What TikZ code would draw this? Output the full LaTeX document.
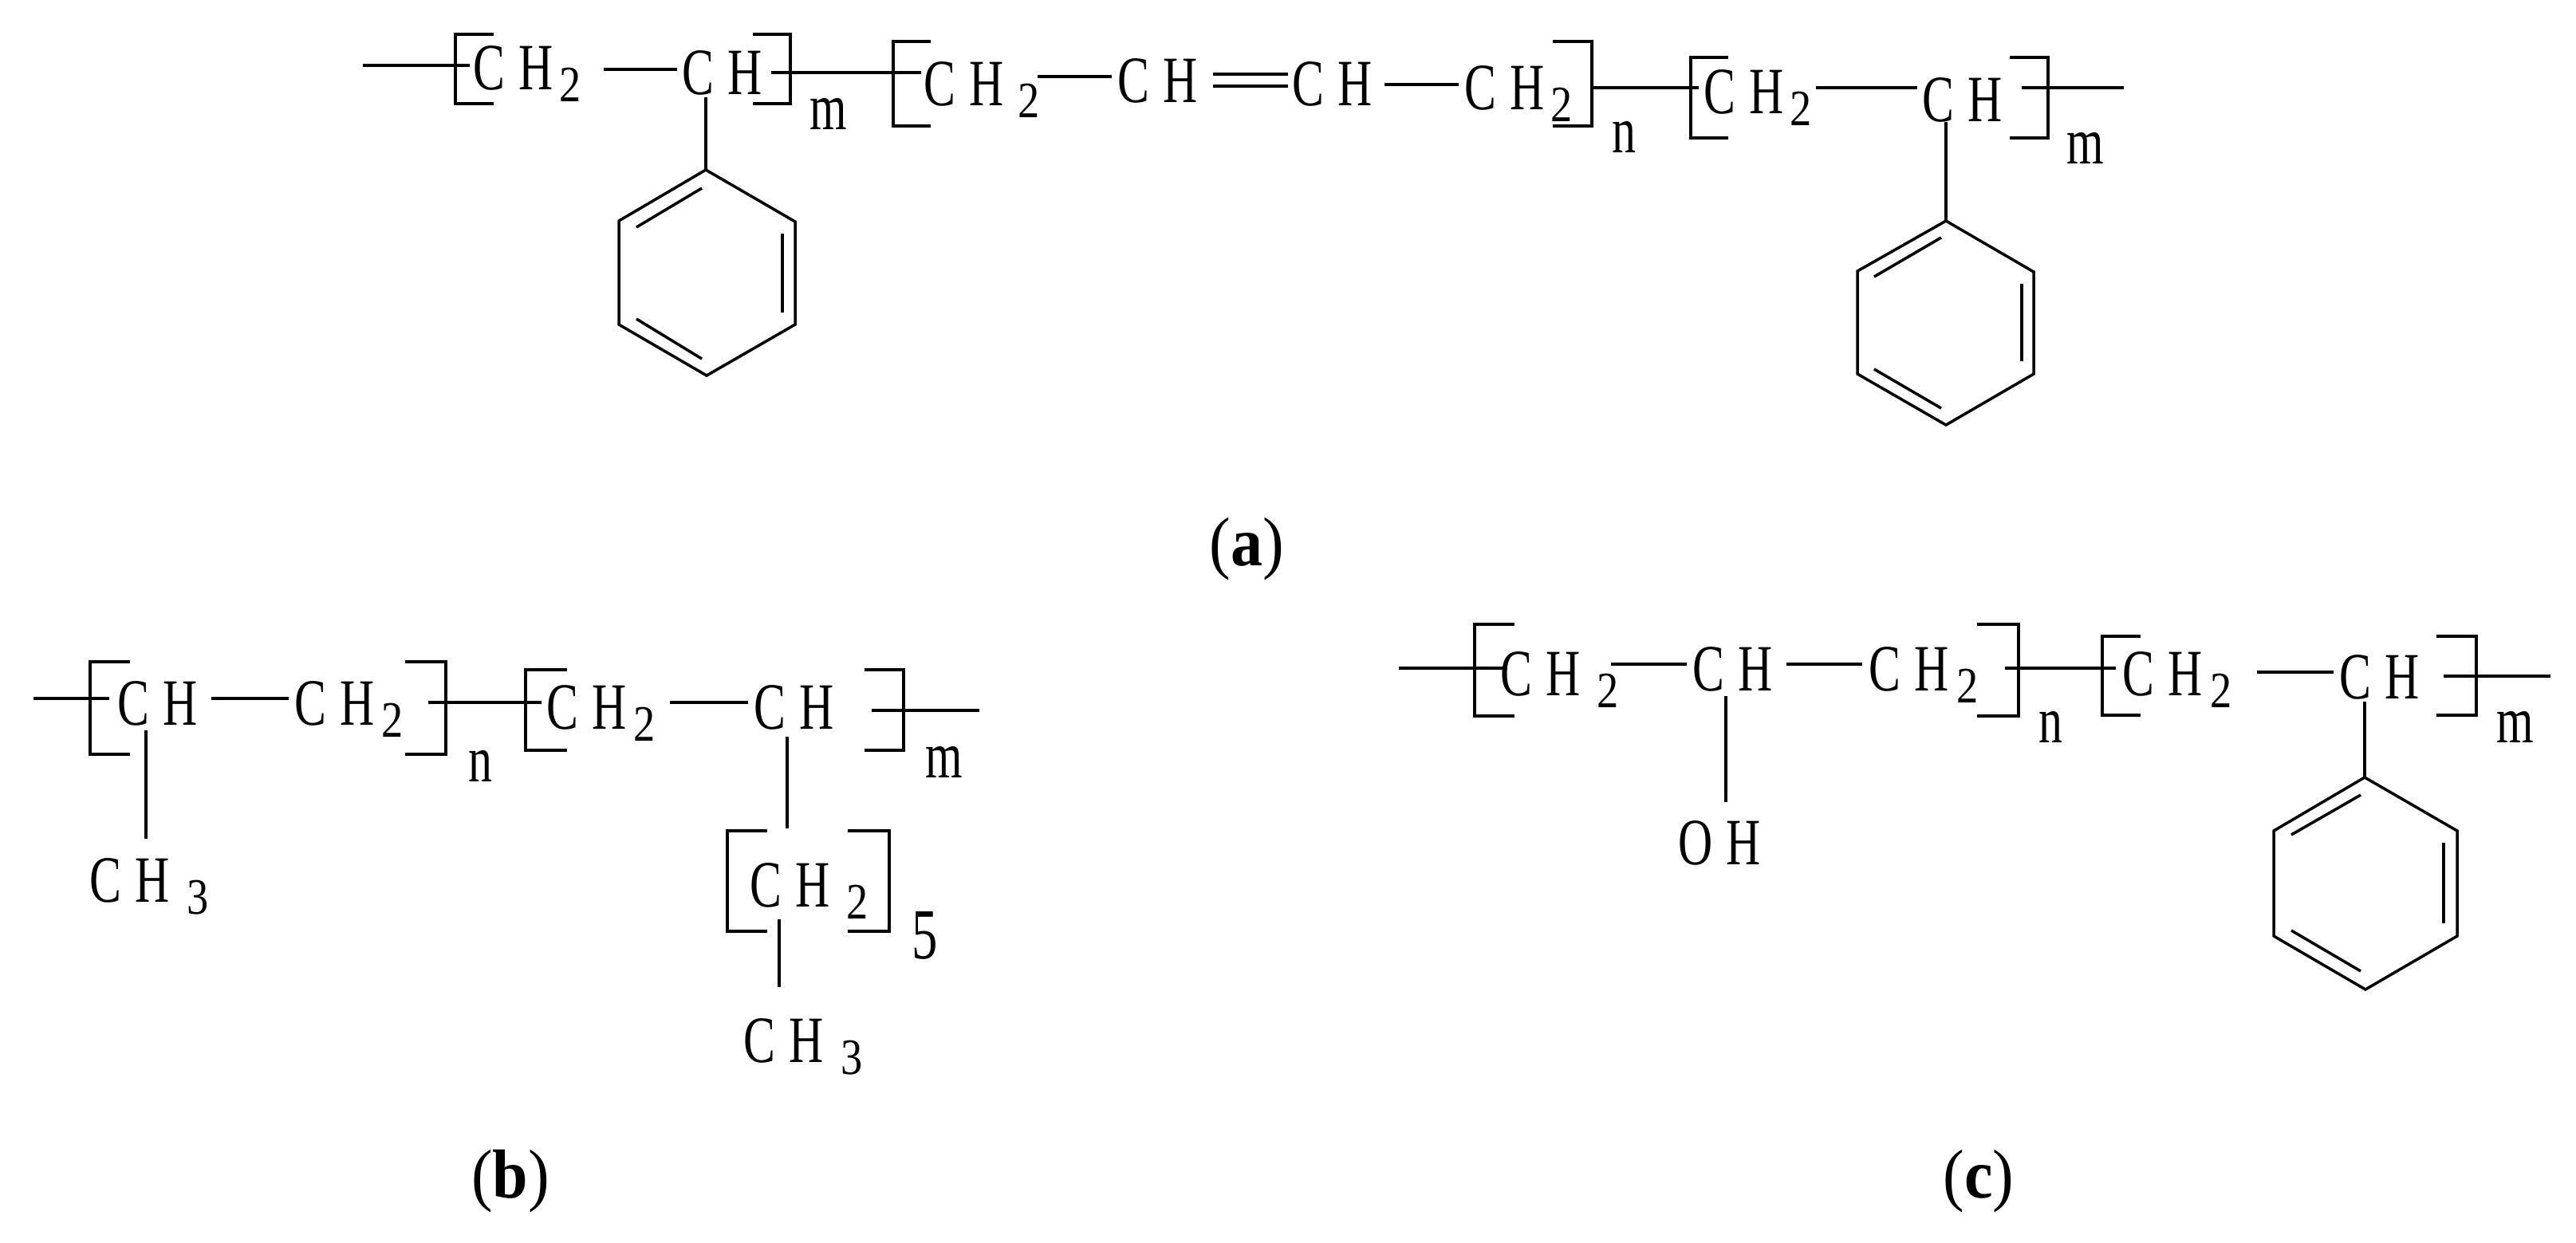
\documentclass[tikz,border=0pt]{standalone}
\usepackage{fontspec}
\setmainfont{Liberation Serif}
\newfontfamily\chemfamily[FakeStretch=0.72]{Liberation Serif}
\newfontfamily\subfamily[FakeStretch=0.85]{Liberation Serif}
\newfontfamily\capfamily[FakeStretch=0.92]{Liberation Serif}
\newcommand{\chemfont}{\chemfamily\fontsize{0.83cm}{1cm}\selectfont}
\newcommand{\subfont}{\subfamily\fontsize{0.64cm}{0.8cm}\selectfont}
\newcommand{\atompair}[2]{#1\kern0.17cm #2}
\newcommand{\chsub}[2]{\atompair{C}{H}\kern#2\raisebox{-0.15cm}{\subfont #1}}
\tikzset{
	atom/.style={anchor=base west,inner sep=0pt,font=\chemfont},
	bigsub/.style={anchor=base west,inner sep=0pt,font=\chemfamily\fontsize{0.90cm}{1cm}\selectfont},
	caption/.style={anchor=base,inner sep=0pt,font=\capfamily\fontsize{0.87cm}{1cm}\selectfont},
	bond/.style={line width=1.25pt},
	sidebond/.style={line width=0.9pt},
	bracket/.style={line width=1.25pt},
	ring/.style={line width=1pt}
}
\begin{document}
\begin{tikzpicture}
	\useasboundingbox (0,0) rectangle (32.30,-15.58);

	% atoms a
	\node[atom] (ch2a1) at (5.93,-1.12) {\chsub{2}{0.08cm}};
	\node[atom] (cha1) at (8.55,-1.18) {\atompair{C}{H}};
	\node[atom] (ch2a2) at (11.58,-1.32) {\chsub{2}{0.18cm}};
	\node[atom] (cha2) at (14.01,-1.28) {\atompair{C}{H}};
	\node[atom] (cha3) at (16.20,-1.32) {\atompair{C}{H}};
	\node[atom] (ch2a3) at (18.36,-1.37) {\chsub{2}{0.08cm}};
	\node[atom] (ch2a4) at (21.36,-1.42) {\chsub{2}{0.08cm}};
	\node[atom] (cha4) at (24.10,-1.52) {\atompair{C}{H}};
	\node[atom] (ma1) at (10.15,-1.62) {m};
	\node[atom] (na1) at (20.21,-1.91) {n};
	\node[atom] (ma2) at (25.91,-2.05) {m};

	% bond ends a
	\coordinate (a1l) at (4.55,-0.82); \coordinate (a1r) at (5.89,-0.82);
	\coordinate (a2l) at (7.57,-0.87); \coordinate (a2r) at (8.49,-0.87);
	\coordinate (a3l) at (9.67,-0.91); \coordinate (a3r) at (11.55,-0.91);
	\coordinate (a4l) at (13.01,-0.96); \coordinate (a4r) at (13.94,-0.96);
	\coordinate (a5l) at (15.21,-0.93); \coordinate (a5r) at (16.15,-0.93);
	\coordinate (a6l) at (15.21,-1.08); \coordinate (a6r) at (16.15,-1.08);
	\coordinate (a7l) at (17.36,-1.06); \coordinate (a7r) at (18.29,-1.06);
	\coordinate (a8l) at (19.96,-1.10); \coordinate (a8r) at (21.30,-1.10);
	\coordinate (a9l) at (22.77,-1.10); \coordinate (a9r) at (24.04,-1.10);
	\coordinate (a10l) at (25.35,-1.10); \coordinate (a10r) at (26.63,-1.10);
	\coordinate (a11t) at (8.85,-1.22);
	\coordinate (a12t) at (24.40,-1.53);

	% bonds a
	\draw[bond] (a1l)--(a1r);
	\draw[bond] (a2l)--(a2r);
	\draw[bond] (a3l)--(a3r);
	\draw[bond] (a4l)--(a4r);
	\draw[bond] (a5l)--(a5r);
	\draw[bond] (a6l)--(a6r);
	\draw[bond] (a7l)--(a7r);
	\draw[bond] (a8l)--(a8r);
	\draw[bond] (a9l)--(a9r);
	\draw[bond] (a10l)--(a10r);

	% brackets a
	\draw[bracket] (6.19,-0.43)--(5.71,-0.43)--(5.71,-1.30)--(6.19,-1.30);
	\draw[bracket] (9.44,-0.43)--(9.91,-0.43)--(9.91,-1.30)--(9.44,-1.30);
	\draw[bracket] (11.67,-0.52)--(11.20,-0.52)--(11.20,-1.58)--(11.67,-1.58);
	\draw[bracket] (19.47,-0.52)--(19.96,-0.52)--(19.96,-1.58)--(19.47,-1.58);
	\draw[bracket] (21.67,-0.72)--(21.20,-0.72)--(21.20,-1.73)--(21.67,-1.73);
	\draw[bracket] (25.20,-0.72)--(25.68,-0.72)--(25.68,-1.73)--(25.20,-1.73);

	% ring a left
	\coordinate (hexa1) at (8.85,-2.13);
	\coordinate (hexa2) at (9.97,-2.78);
	\coordinate (hexa3) at (9.97,-4.07);
	\coordinate (hexa4) at (8.86,-4.71);
	\coordinate (hexa5) at (7.76,-4.07);
	\coordinate (hexa6) at (7.76,-2.77);
	\draw[sidebond] (a11t)--(hexa1);
	\draw[ring] (hexa1)--(hexa2)--(hexa3)--(hexa4)--(hexa5)--(hexa6)--cycle;
	\draw[ring] (7.98,-2.85)--(8.80,-2.36);
	\draw[ring] (9.81,-2.93)--(9.81,-3.92);
	\draw[ring] (7.98,-4.00)--(8.80,-4.50);

	% ring a right
	\coordinate (hexb1) at (24.40,-2.77);
	\coordinate (hexb2) at (25.50,-3.41);
	\coordinate (hexb3) at (25.50,-4.69);
	\coordinate (hexb4) at (24.40,-5.33);
	\coordinate (hexb5) at (23.29,-4.69);
	\coordinate (hexb6) at (23.29,-3.40);
	\draw[sidebond] (a12t)--(hexb1);
	\draw[ring] (hexb1)--(hexb2)--(hexb3)--(hexb4)--(hexb5)--(hexb6)--cycle;
	\draw[ring] (23.50,-3.47)--(24.34,-2.98);
	\draw[ring] (25.35,-3.56)--(25.35,-4.53);
	\draw[ring] (23.50,-4.63)--(24.34,-5.12);

	% caption a
	\node[caption] (capa) at (15.63,-7.09) {(\textbf{a})};

	% atoms b
	\node[atom] (chb1) at (1.47,-9.09) {\atompair{C}{H}};
	\node[atom] (ch2b1) at (3.69,-9.09) {\chsub{2}{0.09cm}};
	\node[atom] (ch2b2) at (6.85,-9.14) {\chsub{2}{0.09cm}};
	\node[atom] (chb2) at (9.45,-9.14) {\atompair{C}{H}};
	\node[atom] (ch3b1) at (1.12,-11.31) {\chsub{3}{0.22cm}};
	\node[atom] (ch2b3) at (9.40,-11.37) {\chsub{2}{0.21cm}};
	\node[atom] (ch3b2) at (9.32,-13.32) {\chsub{3}{0.22cm}};
	\node[atom] (nb1) at (5.87,-9.80) {n};
	\node[atom] (mb1) at (11.60,-9.75) {m};
	\node[bigsub] (fiveb) at (11.43,-12.02) {5};

	% bond ends b
	\coordinate (b1l) at (0.42,-8.76); \coordinate (b1r) at (1.37,-8.76);
	\coordinate (b2l) at (2.65,-8.76); \coordinate (b2r) at (3.62,-8.76);
	\coordinate (b3l) at (5.37,-8.81); \coordinate (b3r) at (6.79,-8.81);
	\coordinate (b4l) at (8.40,-8.81); \coordinate (b4r) at (9.38,-8.81);
	\coordinate (b5l) at (10.93,-8.91); \coordinate (b5r) at (12.28,-8.91);
	\coordinate (b6t) at (1.83,-9.16); \coordinate (b6b) at (1.83,-10.52);
	\coordinate (b7t) at (9.87,-9.24); \coordinate (b7b) at (9.87,-10.39);
	\coordinate (b8t) at (9.77,-11.53); \coordinate (b8b) at (9.77,-12.38);

	% bonds b
	\draw[bond] (b1l)--(b1r);
	\draw[bond] (b2l)--(b2r);
	\draw[bond] (b3l)--(b3r);
	\draw[bond] (b4l)--(b4r);
	\draw[bond] (b5l)--(b5r);
	\draw[sidebond] (b6t)--(b6b);
	\draw[sidebond] (b7t)--(b7b);
	\draw[sidebond] (b8t)--(b8b);

	% brackets b
	\draw[bracket] (1.63,-8.30)--(1.13,-8.30)--(1.13,-9.46)--(1.63,-9.46);
	\draw[bracket] (5.08,-8.30)--(5.59,-8.30)--(5.59,-9.46)--(5.08,-9.46);
	\draw[bracket] (7.11,-8.40)--(6.59,-8.40)--(6.59,-9.41)--(7.11,-9.41);
	\draw[bracket] (10.84,-8.40)--(11.33,-8.40)--(11.33,-9.41)--(10.84,-9.41);
	\draw[bracket] (9.62,-10.42)--(9.12,-10.42)--(9.12,-11.68)--(9.62,-11.68);
	\draw[bracket] (10.63,-10.42)--(11.15,-10.42)--(11.15,-11.68)--(10.63,-11.68);

	% caption b
	\node[caption] (capb) at (6.40,-15.02) {(\textbf{b})};

	% atoms c
	\node[atom] (ch2c1) at (18.81,-8.72) {\chsub{2}{0.21cm}};
	\node[atom] (chc1) at (21.22,-8.66) {\atompair{C}{H}};
	\node[atom] (ch2c2) at (23.43,-8.66) {\chsub{2}{0.10cm}};
	\node[atom] (ch2c3) at (26.61,-8.72) {\chsub{2}{0.10cm}};
	\node[atom] (chc2) at (29.33,-8.76) {\atompair{C}{H}};
	\node[atom] (ohc) at (21.04,-10.84) {\atompair{O}{H}};
	\node[atom] (nc1) at (25.56,-9.31) {n};
	\node[atom] (mc1) at (31.30,-9.31) {m};

	% bond ends c
	\coordinate (c1l) at (17.54,-8.38); \coordinate (c1r) at (18.90,-8.38);
	\coordinate (c2l) at (20.20,-8.33); \coordinate (c2r) at (21.15,-8.33);
	\coordinate (c3l) at (22.40,-8.33); \coordinate (c3r) at (23.35,-8.33);
	\coordinate (c4l) at (25.14,-8.38); \coordinate (c4r) at (26.53,-8.38);
	\coordinate (c5l) at (28.30,-8.43); \coordinate (c5r) at (29.26,-8.43);
	\coordinate (c6l) at (30.64,-8.48); \coordinate (c6r) at (31.98,-8.48);
	\coordinate (c7t) at (21.64,-8.73); \coordinate (c7b) at (21.64,-10.06);
	\coordinate (c8t) at (29.65,-8.80);

	% bonds c
	\draw[bond] (c1l)--(c1r);
	\draw[bond] (c2l)--(c2r);
	\draw[bond] (c3l)--(c3r);
	\draw[bond] (c4l)--(c4r);
	\draw[bond] (c5l)--(c5r);
	\draw[bond] (c6l)--(c6r);
	\draw[sidebond] (c7t)--(c7b);

	% brackets c
	\draw[bracket] (18.99,-7.83)--(18.49,-7.83)--(18.49,-8.98)--(18.99,-8.98);
	\draw[bracket] (24.79,-7.83)--(25.31,-7.83)--(25.31,-8.98)--(24.79,-8.98);
	\draw[bracket] (26.84,-7.98)--(26.36,-7.98)--(26.36,-8.97)--(26.84,-8.97);
	\draw[bracket] (30.55,-7.98)--(31.05,-7.98)--(31.05,-8.97)--(30.55,-8.97);

	% ring c
	\coordinate (hexc1) at (29.65,-9.75);
	\coordinate (hexc2) at (30.81,-10.42);
	\coordinate (hexc3) at (30.81,-11.74);
	\coordinate (hexc4) at (29.66,-12.41);
	\coordinate (hexc5) at (28.51,-11.74);
	\coordinate (hexc6) at (28.51,-10.42);
	\draw[sidebond] (c8t)--(hexc1);
	\draw[ring] (hexc1)--(hexc2)--(hexc3)--(hexc4)--(hexc5)--(hexc6)--cycle;
	\draw[ring] (28.73,-10.47)--(29.60,-9.97);
	\draw[ring] (30.64,-10.57)--(30.64,-11.58);
	\draw[ring] (28.73,-11.67)--(29.60,-12.18);

	% caption c
	\node[caption] (capc) at (24.81,-15.02) {(\textbf{c})};

\end{tikzpicture}
\end{document}
